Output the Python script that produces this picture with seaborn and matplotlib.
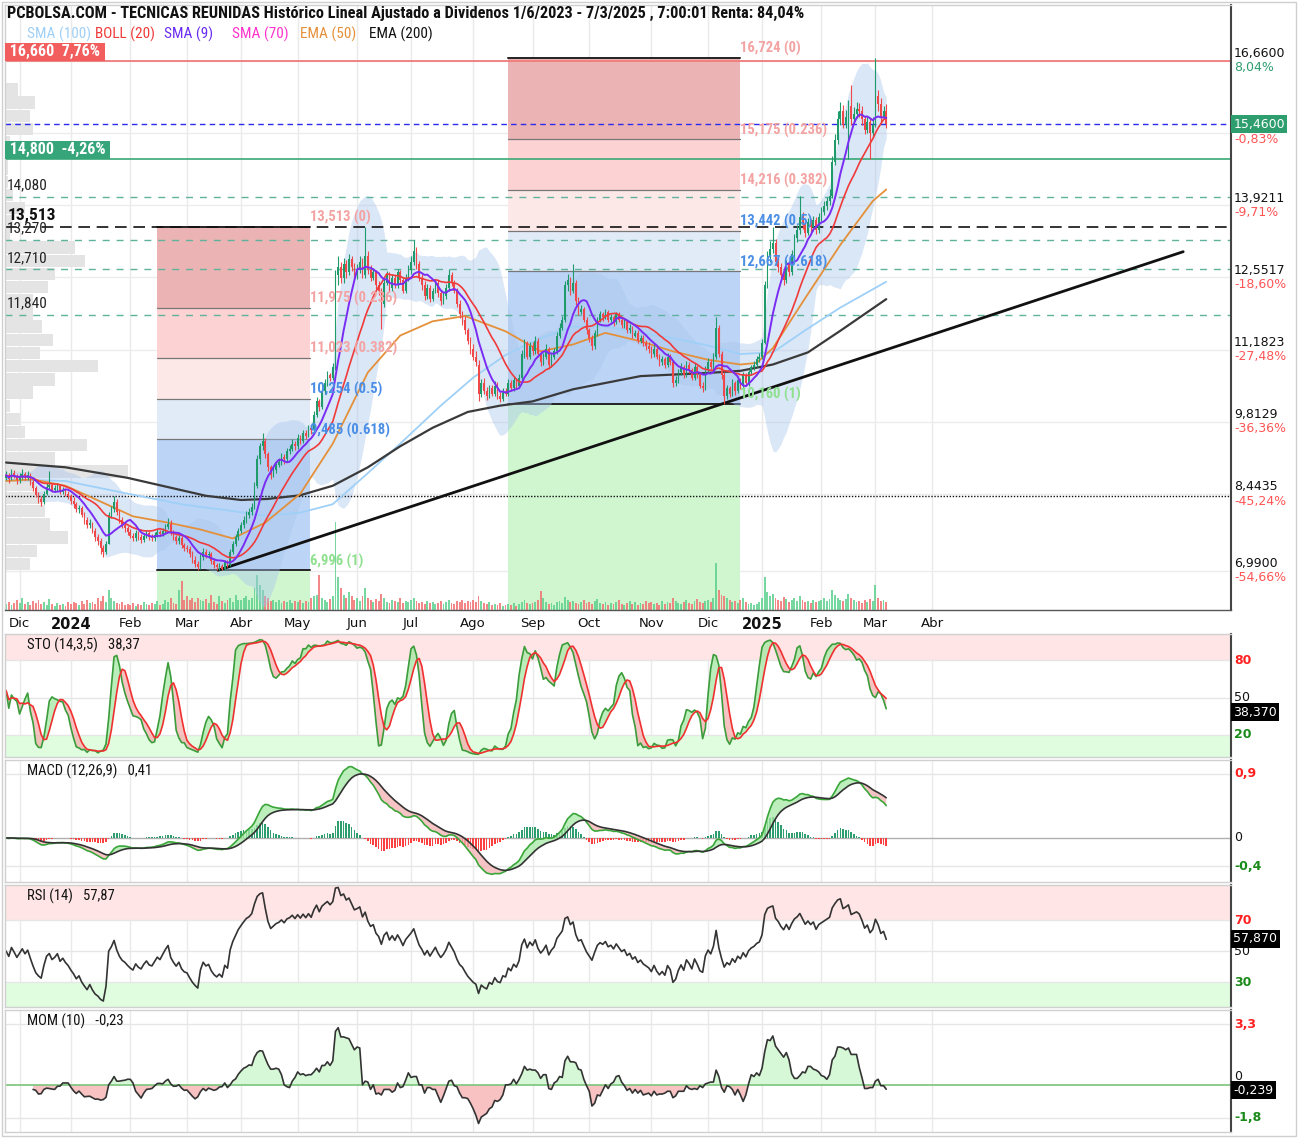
import numpy as np
import pandas as pd
import matplotlib
matplotlib.use("Agg")
import matplotlib.pyplot as plt
import seaborn as sns
from matplotlib import font_manager
from matplotlib.patches import Rectangle

# ---------------------------------------------------------------
# Daily OHLC (24/11/2023 - 7/3/2025), one line per month
# ---------------------------------------------------------------
closes = [
    8.80, 8.72, 8.85, 8.78, 8.70,
    8.76, 8.82, 8.75, 8.80, 8.68, 8.55, 8.42, 8.35, 8.30, 8.45, 8.58, 8.62, 8.52, 8.55, 8.60, 8.48, 8.52, 8.45, 8.40,
    8.32, 8.25, 8.15, 8.18, 8.05, 7.95, 7.85, 7.90, 7.75, 7.62, 7.55, 7.42, 7.35, 7.50, 8.05, 8.15, 8.30, 8.10, 7.95, 7.85, 7.80, 7.72,
    7.65, 7.60, 7.70, 7.62, 7.58, 7.65, 7.70, 7.62, 7.60, 7.66, 7.72, 7.68, 7.75, 7.82, 7.88, 7.70, 7.62, 7.55, 7.60, 7.48, 7.42,
    7.40, 7.30, 7.20, 7.12, 7.05, 7.25, 7.35, 7.28, 7.30, 7.18, 7.10, 7.05, 7.08, 7.02, 7.15, 7.10, 7.35, 7.50, 7.62, 7.75,
    7.85, 7.95, 8.05, 8.10, 8.20, 8.60, 9.10, 9.35, 9.45, 9.20, 8.95, 8.80, 8.90, 9.00, 9.05, 9.15, 9.10, 9.25, 9.30, 9.40, 9.35,
    9.50, 9.45, 9.60, 9.55, 9.70, 9.65, 9.95, 10.20, 10.10, 10.40, 10.55, 10.70, 10.65, 10.85, 12.60, 12.75, 12.55, 12.80, 12.65, 12.90, 12.75, 12.60,
    12.70, 12.85, 12.60, 12.95, 12.70, 12.55, 12.65, 12.40, 12.30, 12.05, 12.45, 12.60, 12.35, 12.55, 12.40, 12.65, 12.50, 12.30, 12.55, 12.70,
    12.85, 13.05, 12.80, 12.55, 12.40, 12.20, 12.35, 12.15, 12.30, 12.45, 12.25, 12.10, 12.20, 12.35, 12.60, 12.45, 12.30, 12.05, 11.85, 11.75, 11.55, 11.35, 11.20,
    11.05, 10.95, 10.35, 10.55, 10.40, 10.30, 10.45, 10.35, 10.50, 10.30, 10.25, 10.40, 10.35, 10.55, 10.45, 10.60, 10.50, 10.65, 11.10, 11.30, 11.05, 11.25,
    11.15, 11.35, 11.10, 10.95, 11.05, 11.20, 10.90, 11.05, 11.15, 11.45, 11.60, 11.75, 12.40, 12.50, 12.30, 12.45, 12.10, 11.90, 11.95, 11.75, 11.55,
    11.40, 11.25, 11.50, 11.75, 11.85, 11.80, 11.90, 11.75, 11.80, 11.70, 11.85, 11.75, 11.65, 11.70, 11.55, 11.60, 11.45, 11.50, 11.35, 11.40, 11.30, 11.25, 11.20,
    11.10, 11.20, 11.05, 10.95, 11.00, 10.90, 11.05, 10.95, 10.55, 10.60, 10.75, 10.85, 10.70, 10.90, 10.80, 10.65, 10.85, 10.70, 10.50, 10.45, 10.80,
    10.95, 10.85, 11.05, 11.60, 11.10, 10.70, 10.30, 10.45, 10.35, 10.55, 10.40, 10.60, 10.50, 10.70, 10.55, 10.75, 10.85, 10.90, 11.00, 11.05,
    11.30, 12.40, 12.95, 13.10, 13.20, 12.85, 12.75, 12.60, 12.50, 12.80, 12.65, 13.00, 13.30, 13.45, 13.70, 13.55, 13.40, 13.60, 13.50, 13.65, 13.45, 13.70,
    13.80, 13.90, 14.00, 14.10, 14.75, 15.15, 15.55, 15.70, 15.45, 15.60, 15.80, 15.55, 15.65, 15.75, 15.70, 15.55, 15.35, 15.50, 15.30, 15.45,
    16.00, 15.85, 15.60, 15.70, 15.46,
]
opens = [
    8.74, 8.80, 8.72, 8.85, 8.78,
    8.70, 8.76, 8.82, 8.75, 8.80, 8.68, 8.55, 8.42, 8.35, 8.30, 8.45, 8.58, 8.62, 8.52, 8.55, 8.60, 8.48, 8.52, 8.45,
    8.40, 8.32, 8.25, 8.15, 8.18, 8.05, 7.95, 7.85, 7.90, 7.75, 7.62, 7.55, 7.42, 7.35, 7.50, 8.05, 8.15, 8.30, 8.10, 7.95, 7.85, 7.80,
    7.72, 7.65, 7.60, 7.70, 7.62, 7.58, 7.65, 7.70, 7.62, 7.60, 7.66, 7.72, 7.68, 7.75, 7.82, 7.88, 7.70, 7.62, 7.55, 7.60, 7.48,
    7.42, 7.40, 7.30, 7.20, 7.12, 7.05, 7.25, 7.35, 7.28, 7.30, 7.18, 7.10, 7.05, 7.08, 7.02, 7.15, 7.10, 7.35, 7.50, 7.62,
    7.75, 7.85, 7.95, 8.05, 8.10, 8.20, 8.60, 9.10, 9.35, 9.45, 9.20, 8.95, 8.80, 8.90, 9.00, 9.05, 9.15, 9.10, 9.25, 9.30, 9.40,
    9.35, 9.50, 9.45, 9.60, 9.55, 9.70, 9.65, 9.95, 10.20, 10.10, 10.40, 10.55, 10.70, 10.65, 10.85, 12.60, 12.75, 12.55, 12.80, 12.65, 12.90, 12.75,
    12.60, 12.70, 12.85, 12.60, 12.95, 12.70, 12.55, 12.65, 12.40, 12.30, 12.05, 12.45, 12.60, 12.35, 12.55, 12.40, 12.65, 12.50, 12.30, 12.55,
    12.70, 12.85, 13.05, 12.80, 12.55, 12.40, 12.20, 12.35, 12.15, 12.30, 12.45, 12.25, 12.10, 12.20, 12.35, 12.60, 12.45, 12.30, 12.05, 11.85, 11.75, 11.55, 11.35,
    11.20, 11.05, 10.90, 10.35, 10.55, 10.40, 10.30, 10.45, 10.35, 10.50, 10.30, 10.25, 10.40, 10.35, 10.55, 10.45, 10.60, 10.50, 10.65, 11.10, 11.30, 11.05,
    11.25, 11.15, 11.35, 11.10, 10.95, 11.05, 11.20, 10.90, 11.05, 11.15, 11.45, 11.60, 11.75, 12.40, 12.50, 12.30, 12.45, 12.10, 11.90, 11.95, 11.75,
    11.55, 11.40, 11.25, 11.50, 11.75, 11.85, 11.80, 11.90, 11.75, 11.80, 11.70, 11.85, 11.75, 11.65, 11.70, 11.55, 11.60, 11.45, 11.50, 11.35, 11.40, 11.30, 11.25,
    11.20, 11.10, 11.20, 11.05, 10.95, 11.00, 10.90, 11.05, 10.95, 10.55, 10.60, 10.75, 10.85, 10.70, 10.90, 10.80, 10.65, 10.85, 10.70, 10.50, 10.45,
    10.80, 10.95, 10.85, 11.05, 11.60, 11.10, 10.70, 10.30, 10.45, 10.35, 10.55, 10.40, 10.60, 10.50, 10.70, 10.55, 10.75, 10.85, 10.90, 11.00,
    11.05, 11.30, 12.40, 12.95, 13.10, 13.20, 12.85, 12.75, 12.60, 12.50, 12.80, 12.65, 13.00, 13.30, 13.45, 13.70, 13.55, 13.40, 13.60, 13.50, 13.65, 13.45,
    13.70, 13.80, 13.90, 14.00, 14.10, 14.75, 15.15, 15.55, 15.70, 15.45, 15.60, 15.80, 15.55, 15.65, 15.75, 15.70, 15.55, 15.35, 15.50, 15.30,
    15.45, 16.00, 15.85, 15.60, 15.70,
]
highs = [
    8.88, 8.84, 8.92, 8.90, 8.82,
    8.84, 8.92, 8.86, 8.88, 8.84, 8.72, 8.60, 8.48, 8.40, 8.50, 8.66, 8.88, 8.66, 8.62, 8.66, 8.64, 8.58, 8.56, 8.50,
    8.45, 8.38, 8.30, 8.24, 8.22, 8.10, 8.00, 7.96, 7.92, 7.80, 7.68, 7.60, 7.48, 7.56, 8.10, 8.22, 8.40, 8.34, 8.14, 8.00, 7.90, 7.84,
    7.78, 7.70, 7.76, 7.74, 7.68, 7.70, 7.76, 7.74, 7.68, 7.72, 7.78, 7.76, 7.80, 7.88, 7.98, 7.95, 7.76, 7.66, 7.66, 7.64, 7.52,
    7.48, 7.46, 7.36, 7.26, 7.18, 7.30, 7.42, 7.40, 7.36, 7.34, 7.22, 7.14, 7.14, 7.12, 7.20, 7.20, 7.40, 7.56, 7.68, 7.80,
    7.92, 8.02, 8.12, 8.18, 8.28, 8.68, 9.18, 9.42, 9.60, 9.50, 9.24, 9.00, 8.96, 9.06, 9.12, 9.22, 9.20, 9.32, 9.38, 9.48, 9.45,
    9.58, 9.56, 9.66, 9.65, 9.76, 9.74, 10.02, 10.28, 10.25, 10.46, 10.62, 10.78, 10.74, 10.92, 12.70, 12.95, 12.85, 12.92, 12.88, 13.00, 12.95, 12.82,
    12.80, 12.95, 12.92, 13.51, 13.05, 12.78, 12.74, 12.70, 12.48, 12.36, 12.52, 12.68, 12.66, 12.62, 12.60, 12.72, 12.70, 12.56, 12.62, 12.78,
    12.95, 13.27, 13.12, 12.86, 12.62, 12.48, 12.42, 12.40, 12.36, 12.52, 12.50, 12.32, 12.28, 12.42, 12.72, 12.65, 12.50, 12.36, 12.12, 11.92, 11.82, 11.60, 11.42,
    11.28, 11.15, 10.98, 10.62, 10.64, 10.48, 10.52, 10.52, 10.58, 10.56, 10.38, 10.46, 10.46, 10.62, 10.60, 10.68, 10.64, 10.72, 11.18, 11.38, 11.35, 11.32,
    11.32, 11.45, 11.40, 11.16, 11.12, 11.28, 11.24, 11.12, 11.22, 11.52, 11.68, 11.82, 12.48, 12.62, 12.56, 12.80, 12.50, 12.18, 12.02, 12.00, 11.80,
    11.60, 11.46, 11.56, 11.80, 11.92, 11.90, 11.96, 11.94, 11.86, 11.84, 11.90, 11.90, 11.80, 11.76, 11.74, 11.66, 11.64, 11.56, 11.55, 11.46, 11.46, 11.36, 11.32,
    11.26, 11.28, 11.25, 11.10, 11.06, 11.05, 11.12, 11.10, 10.98, 10.68, 10.82, 10.92, 10.90, 10.96, 10.95, 10.84, 10.92, 10.90, 10.75, 10.56, 10.88,
    11.02, 11.00, 11.12, 11.80, 11.65, 11.15, 10.75, 10.52, 10.50, 10.62, 10.58, 10.66, 10.64, 10.76, 10.74, 10.80, 10.90, 10.96, 11.06, 11.12,
    11.38, 12.48, 13.05, 13.25, 13.50, 13.28, 12.92, 12.82, 12.68, 12.88, 12.86, 13.08, 13.38, 13.55, 14.10, 13.80, 13.62, 13.68, 13.66, 13.72, 13.70, 13.78,
    13.88, 14.00, 14.08, 14.22, 14.85, 15.28, 15.70, 15.88, 15.82, 15.72, 15.92, 16.20, 15.78, 15.88, 15.86, 15.80, 15.62, 15.60, 15.58, 15.60,
    16.72, 16.10, 15.95, 15.80, 15.85,
]
lows = [
    8.70, 8.66, 8.70, 8.74, 8.64,
    8.66, 8.72, 8.70, 8.70, 8.62, 8.50, 8.38, 8.28, 8.22, 8.26, 8.42, 8.54, 8.48, 8.48, 8.50, 8.44, 8.45, 8.40, 8.34,
    8.26, 8.18, 8.10, 8.08, 8.00, 7.88, 7.80, 7.80, 7.70, 7.56, 7.48, 7.30, 7.25, 7.30, 7.50, 7.98, 8.10, 8.05, 7.90, 7.80, 7.72, 7.66,
    7.60, 7.55, 7.56, 7.58, 7.52, 7.54, 7.60, 7.58, 7.55, 7.56, 7.62, 7.64, 7.64, 7.70, 7.78, 7.66, 7.58, 7.50, 7.50, 7.42, 7.36,
    7.34, 7.24, 7.14, 7.06, 7.00, 7.02, 7.20, 7.22, 7.22, 7.12, 7.04, 6.996, 7.00, 7.00, 7.00, 7.05, 7.08, 7.30, 7.45, 7.58,
    7.70, 7.80, 7.90, 7.98, 8.05, 8.15, 8.55, 9.02, 9.28, 9.12, 8.88, 8.72, 8.76, 8.85, 8.95, 9.00, 9.02, 9.06, 9.20, 9.25, 9.28,
    9.30, 9.40, 9.42, 9.48, 9.52, 9.58, 9.62, 9.90, 10.02, 10.05, 10.35, 10.50, 10.58, 10.60, 10.80, 12.40, 12.45, 12.45, 12.55, 12.60, 12.68, 12.52,
    12.52, 12.64, 12.55, 12.55, 12.62, 12.48, 12.50, 12.34, 12.22, 11.57, 12.00, 12.40, 12.30, 12.30, 12.35, 12.35, 12.45, 12.25, 12.25, 12.48,
    12.62, 12.78, 12.72, 12.48, 12.32, 12.12, 12.15, 12.08, 12.10, 12.25, 12.18, 12.02, 12.05, 12.15, 12.30, 12.38, 12.25, 12.00, 11.78, 11.65, 11.48, 11.28, 11.10,
    10.98, 10.88, 10.20, 10.28, 10.34, 10.22, 10.26, 10.30, 10.30, 10.24, 10.18, 10.20, 10.30, 10.30, 10.40, 10.40, 10.45, 10.45, 10.60, 11.02, 11.00, 11.00,
    11.08, 11.10, 11.04, 10.88, 10.90, 11.00, 10.82, 10.86, 11.00, 11.10, 11.40, 11.55, 11.70, 12.30, 12.22, 12.25, 12.02, 11.84, 11.85, 11.70, 11.48,
    11.32, 11.18, 11.20, 11.45, 11.70, 11.72, 11.76, 11.70, 11.70, 11.64, 11.66, 11.70, 11.60, 11.60, 11.50, 11.50, 11.40, 11.42, 11.30, 11.30, 11.25, 11.18, 11.12,
    11.02, 11.04, 11.00, 10.88, 10.90, 10.84, 10.86, 10.90, 10.48, 10.50, 10.55, 10.70, 10.64, 10.66, 10.74, 10.60, 10.60, 10.64, 10.45, 10.38, 10.42,
    10.75, 10.80, 10.80, 11.00, 11.05, 10.62, 10.16, 10.25, 10.28, 10.30, 10.32, 10.36, 10.44, 10.45, 10.50, 10.50, 10.70, 10.80, 10.86, 10.95,
    11.00, 11.28, 12.35, 12.85, 13.02, 12.78, 12.66, 12.50, 12.40, 12.44, 12.58, 12.60, 12.94, 13.22, 13.38, 13.48, 13.32, 13.35, 13.42, 13.44, 13.38, 13.40,
    13.62, 13.74, 13.84, 13.92, 14.05, 14.68, 15.08, 15.45, 15.38, 15.38, 14.80, 15.45, 15.48, 15.58, 15.60, 15.45, 15.28, 15.30, 14.80, 15.20,
    15.40, 15.70, 15.50, 15.55, 15.38,
]
volumes = [
    6, 8, 5, 7, 10,
    7, 12, 6, 8, 5, 9, 7, 10, 6, 8, 5, 11, 6, 4, 7, 5, 6, 4, 8,
    6, 8, 7, 5, 9, 6, 10, 7, 8, 6, 12, 9, 14, 8, 20, 12, 9, 7, 6, 8, 5, 6,
    5, 7, 4, 6, 5, 8, 6, 5, 7, 6, 9, 5, 6, 10, 8, 12, 7, 6, 20, 29, 10,
    14, 10, 12, 8, 12, 10, 9, 11, 7, 15, 8, 6, 14, 9, 7, 10, 12, 8, 15, 10,
    10, 12, 14, 10, 12, 22, 36, 25, 20, 14, 12, 9, 10, 8, 10, 7, 9, 8, 10, 7, 9,
    8, 10, 7, 9, 8, 12, 14, 15, 36, 12, 10, 8, 11, 14, 89, 33, 22, 15, 12, 18, 14, 10,
    12, 9, 14, 22, 12, 10, 8, 11, 9, 16, 12, 8, 7, 10, 9, 8, 12, 7, 9, 8,
    10, 12, 9, 7, 8, 6, 9, 7, 8, 6, 7, 9, 6, 8, 10, 7, 6, 9, 8, 10, 7, 9, 8,
    10, 8, 14, 9, 7, 6, 8, 5, 6, 5, 7, 4, 5, 6, 5, 7, 4, 6, 8, 10, 7, 6,
    7, 8, 10, 19, 12, 8, 6, 7, 5, 8, 9, 7, 13, 10, 8, 9, 7, 6, 8, 10, 7,
    8, 6, 9, 11, 7, 6, 8, 5, 7, 6, 8, 10, 6, 5, 7, 9, 6, 8, 5, 7, 6, 9, 7,
    8, 6, 7, 5, 9, 6, 8, 7, 12, 9, 7, 6, 8, 10, 7, 6, 9, 11, 8, 7, 9,
    10, 8, 12, 48, 20, 15, 14, 12, 10, 8, 9, 7, 10, 12, 8, 6, 7, 5, 6, 8,
    12, 33, 18, 14, 16, 12, 10, 9, 13, 11, 8, 10, 12, 9, 14, 10, 8, 9, 7, 10, 8, 9,
    10, 12, 9, 11, 20, 15, 12, 10, 9, 11, 16, 12, 10, 8, 9, 7, 10, 8, 11, 9,
    25, 12, 9, 10, 8,
]

# long moving averages (day index -> value)
ema50_day = [0, 10, 22, 35, 47, 60, 72, 84, 96, 109, 121, 134, 146, 158, 170, 185, 198,
             210, 222, 235, 247, 260, 272, 278, 284, 296, 309, 321, 326]
ema50_val = [8.69, 8.72, 8.60, 8.30, 8.02, 7.90, 7.77, 7.60, 7.90, 8.45, 9.40, 10.75, 11.45, 11.72,
             11.82, 11.53, 11.15, 11.28, 11.50, 11.34, 11.15, 10.99, 10.90, 10.93, 11.21, 12.16,
             13.17, 14.00, 14.22]
sma100_day = [0, 22, 47, 66, 84, 96, 109, 121, 134, 146, 161, 173, 185, 198, 210, 222, 235,
              247, 260, 272, 284, 296, 309, 326]
sma100_val = [8.72, 8.69, 8.43, 8.24, 8.12, 8.03, 8.09, 8.25, 8.84, 9.40, 10.12, 10.65, 11.08,
              11.40, 11.62, 11.62, 11.50, 11.40, 11.26, 11.10, 11.13, 11.55, 11.98, 12.47]
ema200_day = [0, 22, 45, 74, 87, 97, 109, 121, 134, 146, 158, 171, 183, 195, 210, 235, 260,
              272, 284, 297, 309, 326]
ema200_val = [9.04, 8.95, 8.75, 8.41, 8.33, 8.35, 8.42, 8.60, 8.95, 9.35, 9.70, 10.00, 10.12,
              10.20, 10.43, 10.68, 10.74, 10.78, 10.90, 11.13, 11.54, 12.14]

# volume profile at the left edge (price bin start, relative volume)
profile_price = [7.00, 7.25, 7.50, 7.75, 8.00, 8.25, 8.50, 8.75, 9.00, 9.25, 9.50, 9.75, 10.00,
                 10.25, 10.50, 10.75, 11.00, 11.25, 11.50, 11.75, 12.00, 12.25, 12.50, 12.75,
                 13.00, 13.25, 13.50, 13.75, 14.00, 14.25, 14.50, 14.75, 15.00, 15.25, 15.50,
                 15.75, 16.00]
profile_vol = [25, 32, 63, 45, 40, 38, 28, 122, 50, 82, 20, 15, 5, 28, 50, 93, 35, 48, 37, 28,
               28, 43, 50, 80, 70, 5, 8, 20, 8, 3, 3, 3, 5, 28, 25, 30, 13]

# fibonacci retracements (levels and ratios)
fib_ratios = ["0", "0.236", "0.382", "0.5", "0.618", "1"]
fib1_levels = [13.513, 11.975, 11.023, 10.254, 9.485, 6.996]
fib2_levels = [16.724, 15.175, 14.216, 13.442, 12.667, 10.160]

# support / resistance lines
teal_levels = [14.080, 13.270, 12.710, 11.840]
trend_day = [78.5, 436]
trend_val = [6.996, 13.04]

# right axis ticks
axis_vals = [16.66, 13.9211, 12.5517, 11.1823, 9.8129, 8.4435, 6.99]
axis_pcts = ["8,04%", "-9,71%", "-18,60%", "-27,48%", "-36,36%", "-45,24%", "-54,66%"]
last_price = 15.46

# ---------------------------------------------------------------
sns.set_theme(style="white")
installed = {f.name for f in font_manager.fontManager.ttflist}
NARROW = next((n for n in ["Liberation Sans Narrow", "Roboto Condensed", "Liberation Sans"]
               if n in installed), "DejaVu Sans")
plt.rcParams["font.family"] = [NARROW, "DejaVu Sans"]

GREEN = "#1f9a6a"
RED = "#f04848"

n = len(closes)
hol = ["2023-12-25", "2023-12-26", "2024-01-01", "2024-03-29", "2024-04-01", "2024-05-01",
       "2024-12-25", "2024-12-26", "2025-01-01", "2025-04-18", "2025-04-21"]
cal = pd.date_range("2023-11-24", "2025-04-30", freq=pd.offsets.CustomBusinessDay(holidays=hol))
x = np.arange(n)

o = np.array(opens); c = np.array(closes)
h = np.maximum(np.array(highs), np.maximum(o, c))
l = np.minimum(np.array(lows), np.minimum(o, c))
cs, hs, ls = pd.Series(c), pd.Series(h), pd.Series(l)

# indicators derived from the price series
sma9 = cs.rolling(9, min_periods=1).mean()
mid20 = cs.rolling(20, min_periods=1).mean()
sd20 = cs.rolling(20, min_periods=2).std(ddof=0).bfill()
boll_up, boll_lo = mid20 + 2 * sd20, mid20 - 2 * sd20

ll14 = ls.rolling(14, min_periods=1).min()
hh14 = hs.rolling(14, min_periods=1).max()
k_slow = (100 * (cs - ll14) / (hh14 - ll14)).rolling(3, min_periods=1).mean()
d_line = k_slow.rolling(5, min_periods=1).mean()

macd = cs.ewm(span=12, adjust=False).mean() - cs.ewm(span=26, adjust=False).mean()
signal = macd.ewm(span=9, adjust=False).mean()
hist = macd - signal

# Wilder RSI, seeded neutral because the history before the window is not shown
delta = np.diff(c, prepend=c[0])
avg_g = avg_l = np.mean(np.abs(delta[1:15])) / 2
rsi_vals = []
for dd in delta:
    avg_g = (avg_g * 13 + max(dd, 0)) / 14
    avg_l = (avg_l * 13 + max(-dd, 0)) / 14
    rsi_vals.append(100 - 100 / (1 + avg_g / avg_l))
rsi = pd.Series(rsi_vals)
mom = cs - cs.shift(10)

# month ticks
cal_idx = pd.Series(np.arange(len(cal)), index=cal)
firsts = cal_idx.groupby(cal.to_period("M")).first().iloc[1:]
mnames = {2: "Feb", 3: "Mar", 4: "Abr", 5: "May", 6: "Jun", 7: "Jul", 8: "Ago", 9: "Sep",
          10: "Oct", 11: "Nov", 12: "Dic"}
tick_pos = list(firsts.values)
tick_lab = [str(p.year) if p.month == 1 else mnames[p.month] for p in firsts.index]

# ---------------------------------------------------------------
W, H = 1298, 1138
fig = plt.figure(figsize=(W / 100, H / 100), dpi=100)
fig.patch.set_facecolor("white")


def add_ax(top, bottom):
    return fig.add_axes([5 / W, 1 - bottom / H, 1226 / W, (bottom - top) / H])


ax = add_ax(5, 610)
ax_sto = add_ax(634, 757)
ax_macd = add_ax(760, 882)
ax_rsi = add_ax(885, 1007)
ax_mom = add_ax(1010, 1132)

XLIM = (-0.4, 453.7)
YLO, YHI = 6.243, 17.72
for a in [ax, ax_sto, ax_macd, ax_rsi, ax_mom]:
    a.set_xlim(*XLIM)
    a.set_facecolor("white")
    for s in ["left", "top", "bottom"]:
        a.spines[s].set_color("#d0d0d0")
        a.spines[s].set_linewidth(1)
    a.spines["right"].set_color("#444444")
    a.spines["right"].set_linewidth(1.5)
    a.set_yticks([])
    for t in tick_pos:
        a.axvline(t, color="#eaeaea", lw=1, zorder=0)
    a.set_xticks(tick_pos)
    a.tick_params(axis="both", length=0, labelbottom=False)
ax.spines["bottom"].set_color("#555555")
ax.set_ylim(YLO, YHI)

# x labels on the main chart
ax.set_xticklabels(tick_lab)
ax.tick_params(axis="x", labelbottom=True, pad=5, labelcolor="#111111")
for lab in ax.get_xticklabels():
    lab.set_fontfamily(["DejaVu Sans"])
    lab.set_fontsize(9.5)
    if lab.get_text().isdigit():
        lab.set_fontweight("bold")
        lab.set_fontsize(10.5)

# horizontal grid of price axis
for v in axis_vals:
    ax.axhline(v, color="#ececec", lw=1, zorder=0)
ax.axhline(15.2905, color="#ececec", lw=1, zorder=0)

# volume profile
xr = XLIM[1] - XLIM[0]
ax.barh(profile_price, np.array(profile_vol) / (max(profile_vol) * 10) * xr, left=XLIM[0],
        height=0.235, align="edge", color="#e4e4e4", zorder=0.8, linewidth=0)

# fibonacci boxes
zone_cols = ["#ebb3b3", "#fcd2d2", "#fde8e8", "#e1ebf8", "#bcd4f6"]
for levels, (x0, x1) in [(fib1_levels, (56, 112.6)), (fib2_levels, (186, 272))]:
    for k in range(5):
        ax.fill_between([x0, x1], levels[k + 1], levels[k], color=zone_cols[k], lw=0, zorder=0.5)
    ax.fill_between([x0, x1], YLO, levels[5], color="#d0f6d0", lw=0, zorder=0.5)
    for k, lv in enumerate(levels):
        ax.plot([x0, x1], [lv, lv], color="#222222" if k in (0, 5) else "#777777",
                lw=1.4 if k in (0, 5) else 0.9, zorder=0.9)
    for k, (lv, r) in enumerate(zip(levels, fib_ratios)):
        col = "#f4a3a3" if k < 3 else ("#4a8ee6" if k < 5 else "#8fe08f")
        ax.text(x1, lv + 0.03, f"{lv:.3f}".replace(".", ",") + f" ({r})", color=col,
                fontsize=10.5, fontweight="bold", va="bottom", ha="left", zorder=6)

# volume bars
vol = np.array(volumes, dtype=float)
vscale = 0.145 * (YHI - YLO) / vol.max()
up = c >= o
ax.bar(x, vol * vscale, bottom=YLO, width=0.7, color=np.where(up, "#5fd18f", "#f27272"),
       alpha=0.85, linewidth=0, zorder=1)

# bollinger band
ax.fill_between(x, boll_lo, boll_up, color="#a9c6ee", alpha=0.42, lw=0, zorder=1.5)

# horizontal lines
ax.axhline(16.66, color="#f07c7c", lw=1.3, zorder=2)
ax.axhline(last_price, color="#2a2af0", lw=1, ls=(0, (4, 3)), zorder=2)
ax.axhline(14.80, color="#3aa876", lw=1.2, zorder=2)
for lv in teal_levels:
    ax.axhline(lv, color="#5fb39c", lw=1, ls=(0, (5, 5)), zorder=2)
ax.axhline(13.513, color="#111111", lw=1.2, ls=(0, (7, 4)), zorder=2)
ax.axhline(8.40, color="#111111", lw=1, ls=(0, (1, 1.2)), zorder=2)

# moving averages
sns.lineplot(x=sma100_day, y=sma100_val, ax=ax, color="#9fd0f7", lw=1.3, zorder=3)
sns.lineplot(x=ema200_day, y=ema200_val, ax=ax, color="#3a3a3a", lw=1.6, zorder=3)
sns.lineplot(x=ema50_day, y=ema50_val, ax=ax, color="#e4903a", lw=1.3, zorder=3)
ax.plot(trend_day, trend_val, color="#111111", lw=2, zorder=3.2)

# candles
ccol = np.where(up, GREEN, RED)
ax.vlines(x, l, h, colors=ccol, lw=0.8, zorder=4)
ax.bar(x, np.maximum(np.abs(c - o), 0.02), bottom=np.minimum(o, c), width=0.62, color=ccol,
       linewidth=0, zorder=4.1)

sns.lineplot(x=x, y=mid20, ax=ax, color="#f03a3a", lw=1.2, zorder=5)
sns.lineplot(x=x, y=sma9, ax=ax, color="#7a2cf2", lw=1.4, zorder=5.1)
ax.set_xlabel(""); ax.set_ylabel("")
ax.set_ylim(YLO, YHI); ax.set_xlim(*XLIM)

# left labels
ax.text(XLIM[0] + 0.3, 16.66 + 0.03, " 16,660  7,76% ", color="white", fontsize=11.5,
        fontweight="bold", va="bottom", ha="left", zorder=7,
        bbox=dict(boxstyle="square,pad=0.08", fc="#f25d5d", ec="none"))
ax.text(XLIM[0] + 0.3, 14.80 + 0.03, " 14,800  -4,26% ", color="white", fontsize=11.5,
        fontweight="bold", va="bottom", ha="left", zorder=7,
        bbox=dict(boxstyle="square,pad=0.08", fc="#36a57a", ec="none"))
for lv in [14.080, 13.270, 12.710, 11.840]:
    ax.text(XLIM[0] + 0.8, lv + 0.08, f"{lv:.3f}".replace(".", ","), fontsize=11,
            color="#222222", va="bottom", ha="left", zorder=7)
ax.text(XLIM[0] + 0.8, 13.513 + 0.08, "13,513", fontsize=12.5, fontweight="bold",
        color="#111111", va="bottom", ha="left", zorder=7)

# right axis labels
yt = ax.get_yaxis_transform()
for v, p in zip(axis_vals, axis_pcts):
    ax.text(1.0025, v + 0.01, f"{v:.4f}".replace(".", ","), transform=yt, fontsize=9,
            family=["DejaVu Sans"], color="#111111", va="bottom", ha="left", clip_on=False)
    ax.text(1.0025, v - 0.01, p, transform=yt, fontsize=9, family=["DejaVu Sans"],
            color="#2e9e6e" if p[0] != "-" else "#ff5555", va="top", ha="left", clip_on=False)
ax.text(1.0018, last_price, f"{last_price:.4f}".replace(".", ","), transform=yt, fontsize=9,
        family=["DejaVu Sans"], color="white", va="center", ha="left", clip_on=False,
        bbox=dict(boxstyle="square,pad=0.2", fc="#2e9e6e", ec="none"))
ax.text(1.0025, last_price - 0.17, "-0,83%", transform=yt, fontsize=9, family=["DejaVu Sans"],
        color="#ff5555", va="top", ha="left", clip_on=False)

# header
fig.text(7 / W, 1 - 13 / H, "PCBOLSA.COM - TECNICAS REUNIDAS Histórico Lineal Ajustado a Dividenos "
         "1/6/2023 - 7/3/2025 , 7:00:01 Renta: 84,04%", fontsize=11.7, fontweight="bold",
         color="#111111", va="center", ha="left")
legend_items = [("SMA (100)", "#9fd0f7", 27), ("BOLL (20)", "#f03a3a", 95), ("SMA (9)", "#6a2cf2", 164),
                ("SMA (70)", "#ff33cc", 232), ("EMA (50)", "#e4903a", 300), ("EMA (200)", "#111111", 369)]
for name, col, px in legend_items:
    fig.text(px / W, 1 - 34 / H, name, fontsize=11, color=col, va="center", ha="left")


# ---------------- indicator panels ----------------
def right_label(a, v, txt, col, box=False, va="center"):
    t = a.get_yaxis_transform()
    if box:
        a.text(1.0018, v, txt, transform=t, fontsize=9, family=["DejaVu Sans"], color="white",
               va="center", ha="left", clip_on=False, zorder=8,
               bbox=dict(boxstyle="square,pad=0.2", fc="black", ec="none"))
    else:
        a.text(1.0025, v, txt, transform=t, fontsize=9, family=["DejaVu Sans"], color=col,
               va=va, ha="left", fontweight="bold" if col != "#111111" else "normal",
               clip_on=False)


def panel_title(a, txt):
    a.text(22 / 1226, 0.91, txt, transform=a.transAxes, fontsize=10.5, color="#111111",
           va="center", ha="left", zorder=8)


# STO
ax_sto.set_ylim(2.4, 100.8)
ax_sto.axhspan(80, 105, color="#ffe5e5", lw=0, zorder=0.2)
ax_sto.axhspan(-5, 20, color="#e0fde0", lw=0, zorder=0.2)
for v in [80, 50, 20]:
    ax_sto.axhline(v, color="#e6e6e6", lw=1, zorder=0.3)
ax_sto.fill_between(x, k_slow, d_line, where=k_slow >= d_line, interpolate=True,
                    color="#9fe89f", alpha=0.7, lw=0, zorder=1)
ax_sto.fill_between(x, k_slow, d_line, where=k_slow < d_line, interpolate=True,
                    color="#f5a8a8", alpha=0.7, lw=0, zorder=1)
sns.lineplot(x=x, y=k_slow, ax=ax_sto, color="#3a9c3a", lw=1.2, zorder=2)
sns.lineplot(x=x, y=d_line, ax=ax_sto, color="#f03030", lw=1.2, zorder=2)
panel_title(ax_sto, "STO (14,3,5)   38,37")
right_label(ax_sto, 80, "80", "#ff2020")
right_label(ax_sto, 50, "50", "#111111")
right_label(ax_sto, 20, "20", "#1a8a1a")
right_label(ax_sto, 38.37, "38,370", None, box=True)

# MACD
ax_macd.set_ylim(-0.62, 1.097)
for v in [0.9, -0.4]:
    ax_macd.axhline(v, color="#e6e6e6", lw=1, zorder=0.3)
ax_macd.axhline(0, color="#b0b0b0", lw=1, zorder=0.4)
ax_macd.bar(x, hist, width=0.6, color=np.where(hist >= 0, "#2e9e6e", "#ff4040"), linewidth=0,
            zorder=1)
ax_macd.fill_between(x, macd, signal, where=macd >= signal, interpolate=True,
                     color="#a6eaa6", alpha=0.75, lw=0, zorder=1.5)
ax_macd.fill_between(x, macd, signal, where=macd < signal, interpolate=True,
                     color="#f3b0b0", alpha=0.75, lw=0, zorder=1.5)
sns.lineplot(x=x, y=macd, ax=ax_macd, color="#3aa63a", lw=1.2, zorder=2)
sns.lineplot(x=x, y=signal, ax=ax_macd, color="#333333", lw=1.2, zorder=2.1)
panel_title(ax_macd, "MACD (12,26,9)   0,41")
right_label(ax_macd, 0.9, "0,9", "#ff2020")
right_label(ax_macd, 0, "0", "#111111")
right_label(ax_macd, -0.4, "-0,4", "#1a8a1a")

# RSI
ax_rsi.set_ylim(13.9, 92.6)
ax_rsi.axhspan(70, 100, color="#ffe5e5", lw=0, zorder=0.2)
ax_rsi.axhspan(0, 30, color="#e0fde0", lw=0, zorder=0.2)
for v in [70, 50, 30]:
    ax_rsi.axhline(v, color="#e6e6e6", lw=1, zorder=0.3)
sns.lineplot(x=x, y=rsi, ax=ax_rsi, color="#333333", lw=1.2, zorder=2)
panel_title(ax_rsi, "RSI (14)   57,87")
right_label(ax_rsi, 70, "70", "#ff2020")
right_label(ax_rsi, 50, "50", "#111111")
right_label(ax_rsi, 30, "30", "#1a8a1a")
right_label(ax_rsi, 57.87, "57,870", None, box=True)

# MOM
ax_mom.set_ylim(-2.56, 4.06)
for v in [3.3, -1.8]:
    ax_mom.axhline(v, color="#e6e6e6", lw=1, zorder=0.3)
ax_mom.fill_between(x, mom, 0, where=mom >= 0, interpolate=True, color="#d6f8d6", lw=0, zorder=1)
ax_mom.fill_between(x, mom, 0, where=mom < 0, interpolate=True, color="#f8c2c2", lw=0, zorder=1)
ax_mom.axhline(0, color="#7cc47c", lw=1.2, zorder=1.5)
sns.lineplot(x=x, y=mom, ax=ax_mom, color="#333333", lw=1.2, zorder=2)
panel_title(ax_mom, "MOM (10)   -0,23")
right_label(ax_mom, 3.3, "3,3", "#ff2020")
right_label(ax_mom, 0.12, "0", "#111111", va="bottom")
right_label(ax_mom, -1.8, "-1,8", "#1a8a1a")
right_label(ax_mom, -0.30, "-0,239", None, box=True)

for a in [ax_sto, ax_macd, ax_rsi, ax_mom]:
    a.set_xlabel(""); a.set_ylabel("")
    a.set_xlim(*XLIM)

fig.patches.append(Rectangle((2 / W, 2 / H), 1294 / W, 1134 / H, transform=fig.transFigure,
                             fill=False, ec="#cfcfcf", lw=1))
fig.savefig("out.png", dpi=100)
